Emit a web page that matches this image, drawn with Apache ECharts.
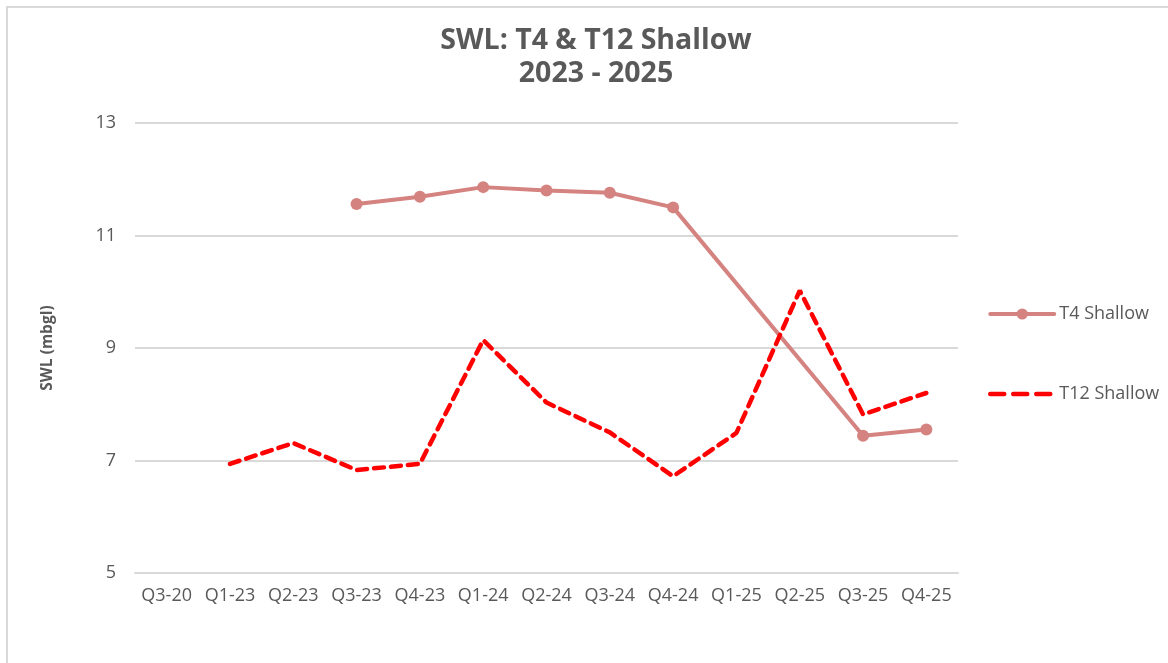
<!DOCTYPE html>
<html>
<head>
<meta charset="utf-8">
<script src="https://cdn.jsdelivr.net/npm/echarts@6/dist/echarts.min.js"></script>
<style>
  html, body { margin: 0; padding: 0; background: #fff; }
  #chart { width: 1168px; height: 663px; }
</style>
</head>
<body>
<div id="chart"></div>
<script>
// quarters on the x axis
const quarters = ['Q3-20', 'Q1-23', 'Q2-23', 'Q3-23', 'Q4-23', 'Q1-24', 'Q2-24', 'Q3-24', 'Q4-24', 'Q1-25', 'Q2-25', 'Q3-25', 'Q4-25'];
// SWL (mbgl), null = no reading
const t4Shallow = [null, null, null, 11.56, 11.69, 11.86, 11.80, 11.76, 11.50, null, null, 7.44, 7.55];
const t12Shallow = [null, 6.94, 7.31, 6.83, 6.94, 9.14, 8.03, 7.50, 6.72, 7.49, 10.02, 7.82, 8.20];
const yTicks = [5, 7, 9, 11, 13];

const txt = '#595959';
const font = 'Open Sans';
const t4Color = '#d48380';
const t12Color = '#ff0000';

const chart = echarts.init(document.getElementById('chart'));

const option = {
  animation: false,
  textStyle: { fontFamily: font },
  title: {
    text: 'SWL: T4 & T12 Shallow\n2023 - 2025',
    left: 591,
    top: 19,
    textAlign: 'center',
    textStyle: { fontSize: 28.5, fontWeight: 'bold', color: txt, lineHeight: 33, fontFamily: font }
  },
  graphic: [{
    type: 'rect',
    shape: { x: 7, y: 7, width: 1300, height: 800 },
    style: { fill: 'none', stroke: '#d9d9d9', lineWidth: 2 },
    silent: true
  }],
  legend: {
    orient: 'vertical',
    left: 983,
    top: 300,
    itemWidth: 64,
    itemHeight: 14,
    itemGap: 62,
    textStyle: { fontSize: 18, color: txt, fontFamily: font },
    data: [
      { name: 'T4 Shallow', lineStyle: { width: 4, color: t4Color } },
      { name: 'T12 Shallow', lineStyle: { width: 4.5, color: t12Color, type: [14, 9] }, itemStyle: { opacity: 0 } }
    ]
  },
  grid: { left: 135, right: 210, top: 123, bottom: 90 },
  xAxis: {
    type: 'category',
    data: quarters,
    boundaryGap: true,
    axisLine: { show: true, lineStyle: { color: '#d9d9d9', width: 2 } },
    axisTick: { show: false },
    axisLabel: { color: txt, fontSize: 18, margin: 14, interval: 0, fontFamily: font }
  },
  yAxis: {
    type: 'value',
    min: yTicks[0],
    max: yTicks[yTicks.length - 1],
    interval: 2,
    name: 'SWL (mbgl)',
    nameLocation: 'middle',
    nameGap: 79,
    nameTextStyle: { color: txt, fontSize: 15.5, fontWeight: 'bold', fontFamily: font },
    axisLine: { show: false },
    axisTick: { show: false },
    axisLabel: { color: txt, fontSize: 18, margin: 19, fontFamily: font },
    splitLine: { lineStyle: { color: '#d9d9d9', width: 2 } }
  },
  series: [
    {
      name: 'T4 Shallow',
      type: 'line',
      data: t4Shallow,
      connectNulls: true,
      symbol: 'circle',
      symbolSize: 12,
      color: t4Color,
      lineStyle: { width: 4, color: t4Color, cap: 'round' },
      itemStyle: { color: t4Color }
    },
    {
      name: 'T12 Shallow',
      type: 'line',
      data: t12Shallow,
      connectNulls: true,
      symbol: 'none',
      color: t12Color,
      lineStyle: { width: 4.5, color: t12Color, type: [10, 7], cap: 'round' }
    }
  ]
};
chart.setOption(option);
</script>
</body>
</html>
